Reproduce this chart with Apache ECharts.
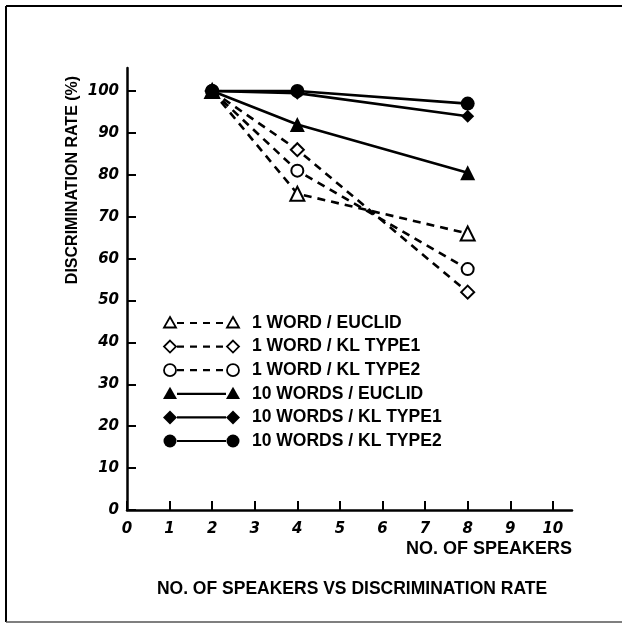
<!DOCTYPE html>
<html>
<head>
<meta charset="utf-8">
<script src="https://cdn.jsdelivr.net/npm/echarts@6/dist/echarts.min.js"></script>
<style>html,body{margin:0;padding:0;background:#fff}#c{width:627px;height:629px}</style>
</head>
<body>
<div id="c"></div>
<script>
const speakers = [2, 4, 8];
const oneWordEuclid = [100, 75.5, 66];
const oneWordKL1 = [100, 86, 52];
const oneWordKL2 = [100, 81, 57.5];
const tenWordsEuclid = [100, 92, 80.5];
const tenWordsKL1 = [100, 99.5, 94];
const tenWordsKL2 = [100, 100, 97];
const yTicks = [0, 10, 20, 30, 40, 50, 60, 70, 80, 90, 100];
const xTicks = [0, 1, 2, 3, 4, 5, 6, 7, 8, 9, 10];
const seriesNames = ['1 WORD / EUCLID', '1 WORD / KL TYPE1', '1 WORD / KL TYPE2', '10 WORDS / EUCLID', '10 WORDS / KL TYPE1', '10 WORDS / KL TYPE2'];

const FONT = '"Liberation Sans", Arial, Helvetica, sans-serif';
const TICKFONT = '"DejaVu Sans", "Liberation Sans", sans-serif';
const seriesDefs = [
  {name: seriesNames[0], vals: oneWordEuclid, symbol: 'triangle', size: 14, open: true},
  {name: seriesNames[1], vals: oneWordKL1, symbol: 'diamond', size: 13, open: true},
  {name: seriesNames[2], vals: oneWordKL2, symbol: 'circle', size: 12, open: true},
  {name: seriesNames[3], vals: tenWordsEuclid, symbol: 'triangle', size: 15, open: false},
  {name: seriesNames[4], vals: tenWordsKL1, symbol: 'diamond', size: 13, open: false},
  {name: seriesNames[5], vals: tenWordsKL2, symbol: 'circle', size: 14, open: false}
];

const series = seriesDefs.map(d => ({
  name: d.name,
  type: 'line',
  data: speakers.map((x, i) => [x, d.vals[i]]),
  symbol: d.symbol,
  symbolSize: d.size,
  z: d.open ? 2 : 3,
  lineStyle: {color: '#000', width: 2.6, type: d.open ? [8, 6] : 'solid'},
  itemStyle: d.open ? {color: '#fff', borderColor: '#000', borderWidth: 2} : {color: '#000', borderColor: '#000', borderWidth: 0},
  emphasis: {disabled: true},
  animation: false
}));

// legend drawn as graphic rows
const legendGraphics = [];
const legendTop = 323, legendStep = 23.6, lx1 = 170, lx2 = 233, ltx = 252;
seriesDefs.forEach((d, i) => {
  const y = legendTop + i * legendStep;
  legendGraphics.push({
    type: 'line', shape: {x1: lx1 + 7, y1: y, x2: lx2 - 7, y2: y},
    style: {stroke: '#000', lineWidth: 2.2, lineDash: d.open ? [7, 6] : null}
  });
  [lx1, lx2].forEach(cx => {
    let shape, type;
    const r = d.open ? 6 : 7;
    if (d.symbol === 'circle') {
      type = 'circle'; shape = {cx: cx, cy: y, r: d.open ? 6 : 6.5};
    } else if (d.symbol === 'triangle') {
      type = 'polygon'; shape = {points: [[cx, y - r], [cx + r, y + r * 0.75], [cx - r, y + r * 0.75]]};
    } else {
      type = 'polygon'; shape = {points: [[cx, y - r], [cx + r, y], [cx, y + r], [cx - r, y]]};
    }
    legendGraphics.push({
      type: type, shape: shape,
      style: d.open ? {fill: '#fff', stroke: '#000', lineWidth: 1.8} : {fill: '#000', stroke: '#000', lineWidth: 0}
    });
  });
  legendGraphics.push({
    type: 'text', x: ltx, y: y,
    style: {text: d.name, font: 'bold 17.5px ' + FONT, fill: '#000', verticalAlign: 'middle'}
  });
});

const chart = echarts.init(document.getElementById('c'), null, {renderer: 'canvas'});
chart.setOption({
  backgroundColor: '#fff',
  animation: false,
  title: {
    text: 'NO. OF SPEAKERS VS DISCRIMINATION RATE',
    left: 347, top: 575, textAlign: 'center',
    textStyle: {fontFamily: FONT, fontSize: 17.5, fontWeight: 'bold', color: '#000'}
  },
  grid: {left: 127, right: 55, top: 68, bottom: 119, containLabel: false},
  xAxis: {
    type: 'value', min: 0, max: 10.45,
    name: 'NO. OF SPEAKERS', nameLocation: 'end', nameGap: 0,
    nameTextStyle: {fontFamily: FONT, fontSize: 18, fontWeight: 'bold', color: '#000', align: 'right', verticalAlign: 'top', padding: [30, 0, 0, 0]},
    axisLine: {show: true, lineStyle: {color: '#000', width: 2.5}},
    axisTick: {show: true, inside: true, length: 9, lineStyle: {color: '#000', width: 2}, customValues: xTicks},
    axisLabel: {customValues: xTicks, fontFamily: TICKFONT, fontSize: 15, fontWeight: 'bold', fontStyle: 'italic', color: '#000', margin: 12},
    splitLine: {show: false}
  },
  yAxis: {
    type: 'value', min: 0, max: 105.5,
    axisLine: {show: true, lineStyle: {color: '#000', width: 2.5}},
    axisTick: {show: true, inside: true, length: 9, lineStyle: {color: '#000', width: 2}, customValues: yTicks},
    axisLabel: {customValues: yTicks, fontFamily: TICKFONT, fontSize: 15, fontWeight: 'bold', fontStyle: 'italic', color: '#000', margin: 8},
    splitLine: {show: false}
  },
  graphic: [
    {type: 'line', shape: {x1: 6, y1: 6, x2: 622, y2: 6}, style: {stroke: '#000', lineWidth: 2}},
    {type: 'line', shape: {x1: 6, y1: 6, x2: 6, y2: 622}, style: {stroke: '#000', lineWidth: 2}},
    {type: 'line', shape: {x1: 6, y1: 622, x2: 622, y2: 622}, style: {stroke: '#555', lineWidth: 1.5}},
    {type: 'text', x: 73, y: 180, rotation: Math.PI / 2,
     style: {text: 'DISCRIMINATION RATE (%)', font: 'bold 16px ' + FONT, fill: '#000', align: 'center', verticalAlign: 'middle'}}
  ].concat(legendGraphics),
  series: series
});
</script>
</body>
</html>
